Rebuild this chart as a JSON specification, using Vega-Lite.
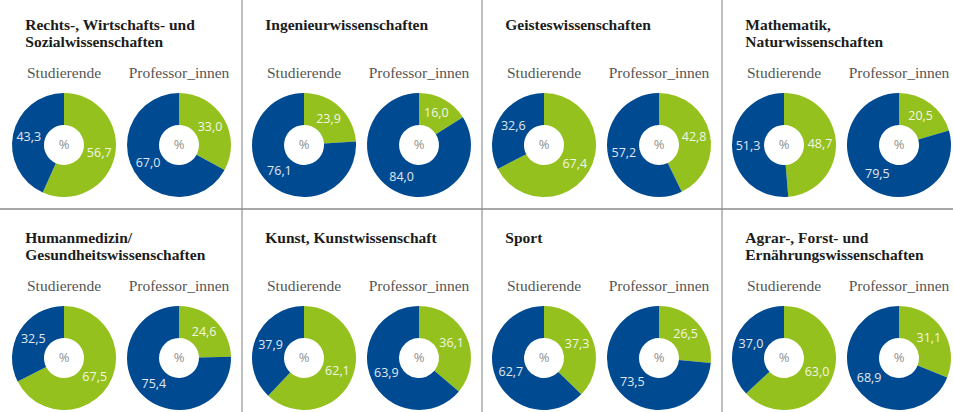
{
  "$schema": "https://vega.github.io/schema/vega-lite/v6.json",
  "width": 953,
  "height": 412,
  "padding": 0,
  "autosize": {"type": "none"},
  "background": "white",
  "config": {
    "view": {"stroke": null},
    "locale": {"number": {"decimal": ",", "thousands": ".", "grouping": [3], "currency": ["", " €"]}}
  },
  "data": {
    "values": [
      {"group": "Rechts-, Wirtschafts- und\nSozialwissenschaften", "col": 1, "row": 1, "type": "Studierende", "sex": "w", "value": 56.7},
      {"group": "Rechts-, Wirtschafts- und\nSozialwissenschaften", "col": 1, "row": 1, "type": "Studierende", "sex": "m", "value": 43.3},
      {"group": "Rechts-, Wirtschafts- und\nSozialwissenschaften", "col": 1, "row": 1, "type": "Professor_innen", "sex": "w", "value": 33.0},
      {"group": "Rechts-, Wirtschafts- und\nSozialwissenschaften", "col": 1, "row": 1, "type": "Professor_innen", "sex": "m", "value": 67.0},
      {"group": "Ingenieurwissenschaften", "col": 2, "row": 1, "type": "Studierende", "sex": "w", "value": 23.9},
      {"group": "Ingenieurwissenschaften", "col": 2, "row": 1, "type": "Studierende", "sex": "m", "value": 76.1},
      {"group": "Ingenieurwissenschaften", "col": 2, "row": 1, "type": "Professor_innen", "sex": "w", "value": 16.0},
      {"group": "Ingenieurwissenschaften", "col": 2, "row": 1, "type": "Professor_innen", "sex": "m", "value": 84.0},
      {"group": "Geisteswissenschaften", "col": 3, "row": 1, "type": "Studierende", "sex": "w", "value": 67.4},
      {"group": "Geisteswissenschaften", "col": 3, "row": 1, "type": "Studierende", "sex": "m", "value": 32.6},
      {"group": "Geisteswissenschaften", "col": 3, "row": 1, "type": "Professor_innen", "sex": "w", "value": 42.8},
      {"group": "Geisteswissenschaften", "col": 3, "row": 1, "type": "Professor_innen", "sex": "m", "value": 57.2},
      {"group": "Mathematik,\nNaturwissenschaften", "col": 4, "row": 1, "type": "Studierende", "sex": "w", "value": 48.7},
      {"group": "Mathematik,\nNaturwissenschaften", "col": 4, "row": 1, "type": "Studierende", "sex": "m", "value": 51.3},
      {"group": "Mathematik,\nNaturwissenschaften", "col": 4, "row": 1, "type": "Professor_innen", "sex": "w", "value": 20.5},
      {"group": "Mathematik,\nNaturwissenschaften", "col": 4, "row": 1, "type": "Professor_innen", "sex": "m", "value": 79.5},
      {"group": "Humanmedizin/\nGesundheitswissenschaften", "col": 1, "row": 2, "type": "Studierende", "sex": "w", "value": 67.5},
      {"group": "Humanmedizin/\nGesundheitswissenschaften", "col": 1, "row": 2, "type": "Studierende", "sex": "m", "value": 32.5},
      {"group": "Humanmedizin/\nGesundheitswissenschaften", "col": 1, "row": 2, "type": "Professor_innen", "sex": "w", "value": 24.6},
      {"group": "Humanmedizin/\nGesundheitswissenschaften", "col": 1, "row": 2, "type": "Professor_innen", "sex": "m", "value": 75.4},
      {"group": "Kunst, Kunstwissenschaft", "col": 2, "row": 2, "type": "Studierende", "sex": "w", "value": 62.1},
      {"group": "Kunst, Kunstwissenschaft", "col": 2, "row": 2, "type": "Studierende", "sex": "m", "value": 37.9},
      {"group": "Kunst, Kunstwissenschaft", "col": 2, "row": 2, "type": "Professor_innen", "sex": "w", "value": 36.1},
      {"group": "Kunst, Kunstwissenschaft", "col": 2, "row": 2, "type": "Professor_innen", "sex": "m", "value": 63.9},
      {"group": "Sport", "col": 3, "row": 2, "type": "Studierende", "sex": "w", "value": 37.3},
      {"group": "Sport", "col": 3, "row": 2, "type": "Studierende", "sex": "m", "value": 62.7},
      {"group": "Sport", "col": 3, "row": 2, "type": "Professor_innen", "sex": "w", "value": 26.5},
      {"group": "Sport", "col": 3, "row": 2, "type": "Professor_innen", "sex": "m", "value": 73.5},
      {"group": "Agrar-, Forst- und\nErnährungswissenschaften", "col": 4, "row": 2, "type": "Studierende", "sex": "w", "value": 63.0},
      {"group": "Agrar-, Forst- und\nErnährungswissenschaften", "col": 4, "row": 2, "type": "Studierende", "sex": "m", "value": 37.0},
      {"group": "Agrar-, Forst- und\nErnährungswissenschaften", "col": 4, "row": 2, "type": "Professor_innen", "sex": "w", "value": 31.1},
      {"group": "Agrar-, Forst- und\nErnährungswissenschaften", "col": 4, "row": 2, "type": "Professor_innen", "sex": "m", "value": 68.9}
    ]
  },
  "transform": [
    {"stack": "value", "groupby": ["group", "type"], "sort": [{"field": "sex", "order": "descending"}], "as": ["v0", "v1"]},
    {"calculate": "(datum.v0 + datum.v1) / 2", "as": "mid"}
  ],
  "layer": [
    {
      "transform": [{"filter": "datum.col > 1 && datum.row == 1 && datum.type == 'Studierende' && datum.sex == 'w'"}],
      "mark": {"type": "rule", "color": "#9c9c9c", "strokeWidth": 1.3},
      "encoding": {
        "x": {"field": "col", "type": "ordinal", "bandPosition": 0, "scale": {"type": "band", "domain": [1, 2, 3, 4], "range": [2, 962], "paddingInner": 0, "paddingOuter": 0}, "axis": null}
      }
    },
    {
      "transform": [{"filter": "datum.col == 1 && datum.row == 2 && datum.type == 'Studierende' && datum.sex == 'w'"}],
      "mark": {"type": "rule", "color": "#8a8a8a", "strokeWidth": 1.3},
      "encoding": {
        "y": {"field": "row", "type": "ordinal", "bandPosition": 0, "scale": {"type": "band", "domain": [1, 2], "range": [-4, 422], "paddingInner": 0, "paddingOuter": 0}, "axis": null}
      }
    },
    {
      "mark": {"type": "arc", "outerRadius": 52, "innerRadius": 20, "stroke": null},
      "encoding": {
        "x": {"field": "col", "type": "ordinal", "scale": {"type": "band", "domain": [1, 2, 3, 4], "range": [2, 962], "paddingInner": 0, "paddingOuter": 0}, "axis": null},
        "xOffset": {"field": "type", "type": "nominal", "scale": {"type": "point", "domain": ["Studierende", "Professor_innen"], "range": [62, 177], "padding": 0}},
        "y": {"field": "row", "type": "ordinal", "bandPosition": 0.6995, "scale": {"type": "band", "domain": [1, 2], "range": [-4, 422], "paddingInner": 0, "paddingOuter": 0}, "axis": null},
        "theta": {"field": "v0", "type": "quantitative", "stack": null, "scale": {"domain": [0, 100], "range": [0, 6.283185307], "zero": false}},
        "theta2": {"field": "v1"},
        "color": {"field": "sex", "type": "nominal", "scale": {"domain": ["w", "m"], "range": ["#95c11f", "#004a92"]}, "legend": null}
      }
    },
    {
      "mark": {"type": "text", "radius": 36, "font": "Open Sans", "fontSize": 12.5, "color": "#ffffff", "opacity": 0.88, "align": "center", "baseline": "middle"},
      "encoding": {
        "x": {"field": "col", "type": "ordinal", "scale": {"type": "band", "domain": [1, 2, 3, 4], "range": [2, 962], "paddingInner": 0, "paddingOuter": 0}, "axis": null},
        "xOffset": {"field": "type", "type": "nominal", "scale": {"type": "point", "domain": ["Studierende", "Professor_innen"], "range": [62, 177], "padding": 0}},
        "y": {"field": "row", "type": "ordinal", "bandPosition": 0.6995, "scale": {"type": "band", "domain": [1, 2], "range": [-4, 422], "paddingInner": 0, "paddingOuter": 0}, "axis": null},
        "theta": {"field": "mid", "type": "quantitative", "stack": null},
        "text": {"field": "value", "type": "quantitative", "format": ".1f"}
      }
    },
    {
      "transform": [{"filter": "datum.sex == 'w'"}],
      "mark": {"type": "text", "font": "Open Sans", "fontSize": 13, "color": "#8f8f8f", "align": "center", "baseline": "middle", "text": "%"},
      "encoding": {
        "x": {"field": "col", "type": "ordinal", "scale": {"type": "band", "domain": [1, 2, 3, 4], "range": [2, 962], "paddingInner": 0, "paddingOuter": 0}, "axis": null},
        "xOffset": {"field": "type", "type": "nominal", "scale": {"type": "point", "domain": ["Studierende", "Professor_innen"], "range": [62, 177], "padding": 0}},
        "y": {"field": "row", "type": "ordinal", "bandPosition": 0.6995, "scale": {"type": "band", "domain": [1, 2], "range": [-4, 422], "paddingInner": 0, "paddingOuter": 0}, "axis": null}
      }
    },
    {
      "transform": [{"filter": "datum.sex == 'w'"}],
      "mark": {"type": "text", "font": "Liberation Serif", "fontSize": 15.5, "color": "#555555", "align": "center", "baseline": "alphabetic"},
      "encoding": {
        "x": {"field": "col", "type": "ordinal", "scale": {"type": "band", "domain": [1, 2, 3, 4], "range": [2, 962], "paddingInner": 0, "paddingOuter": 0}, "axis": null},
        "xOffset": {"field": "type", "type": "nominal", "scale": {"type": "point", "domain": ["Studierende", "Professor_innen"], "range": [62, 177], "padding": 0}},
        "y": {"field": "row", "type": "ordinal", "bandPosition": 0.387, "scale": {"type": "band", "domain": [1, 2], "range": [-4, 422], "paddingInner": 0, "paddingOuter": 0}, "axis": null},
        "text": {"field": "type", "type": "nominal"}
      }
    },
    {
      "transform": [{"filter": "datum.sex == 'w' && datum.type == 'Studierende'"}],
      "mark": {"type": "text", "font": "Liberation Serif", "fontWeight": "bold", "fontSize": 15.5, "color": "#1c1c1c", "align": "left", "baseline": "alphabetic", "lineBreak": "\n", "lineHeight": 16.8},
      "encoding": {
        "x": {"field": "col", "type": "ordinal", "bandPosition": 0.097, "scale": {"type": "band", "domain": [1, 2, 3, 4], "range": [2, 962], "paddingInner": 0, "paddingOuter": 0}, "axis": null},
        "y": {"field": "row", "type": "ordinal", "bandPosition": 0.16, "scale": {"type": "band", "domain": [1, 2], "range": [-4, 422], "paddingInner": 0, "paddingOuter": 0}, "axis": null},
        "text": {"field": "group", "type": "nominal"}
      }
    }
  ]
}
